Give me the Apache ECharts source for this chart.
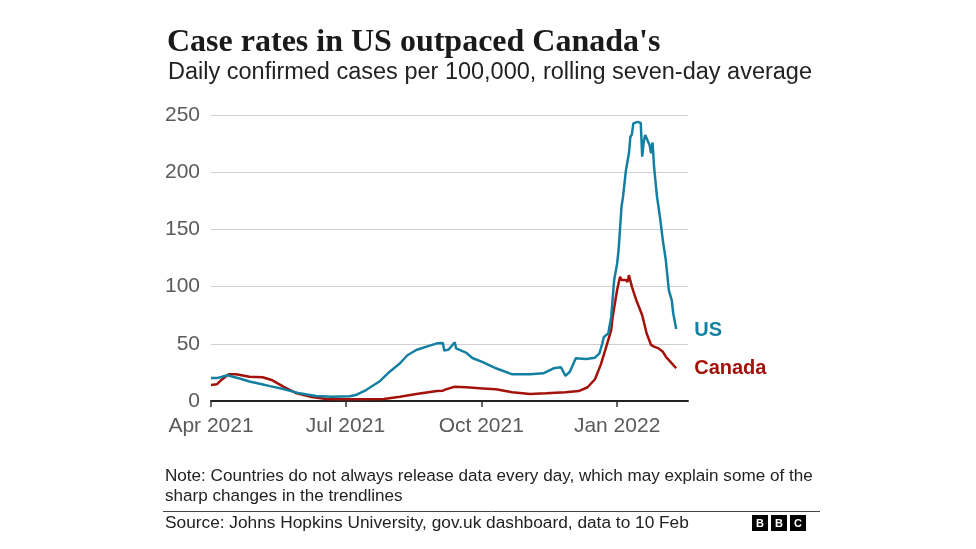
<!DOCTYPE html>
<html>
<head>
<meta charset="utf-8">
<script src="https://cdn.jsdelivr.net/npm/echarts@6/dist/echarts.min.js"></script>
<style>
html,body{margin:0;padding:0;background:#fff;}
#chart{width:976px;height:549px;}
</style>
</head>
<body>
<div id="chart"></div>
<script>
// ---- Data ----
const usDates = ['2021-04-01','2021-04-05','2021-04-08','2021-04-12','2021-04-21','2021-04-27','2021-05-04','2021-05-11','2021-05-20','2021-05-31','2021-06-11','2021-06-22','2021-07-04','2021-07-08','2021-07-15','2021-07-24','2021-07-31','2021-08-07','2021-08-12','2021-08-18','2021-08-25','2021-09-01','2021-09-05','2021-09-06','2021-09-09','2021-09-13','2021-09-14','2021-09-21','2021-09-25','2021-10-02','2021-10-11','2021-10-22','2021-11-03','2021-11-12','2021-11-19','2021-11-24','2021-11-27','2021-11-30','2021-12-04','2021-12-11','2021-12-17','2021-12-20','2021-12-22','2021-12-23','2021-12-26','2021-12-28','2021-12-30','2022-01-01','2022-01-02','2022-01-04','2022-01-05','2022-01-07','2022-01-09','2022-01-10','2022-01-11','2022-01-12','2022-01-15','2022-01-17','2022-01-18','2022-01-19','2022-01-20','2022-01-22','2022-01-23','2022-01-24','2022-01-25','2022-01-26','2022-01-28','2022-01-30','2022-02-01','2022-02-03','2022-02-05','2022-02-07','2022-02-08','2022-02-10'];
const usValues = [20,20,21,22.5,19.5,17,15,13,10.5,6.7,4.4,3.8,4.1,5.2,9.6,17,25.6,33,40,44.6,47.5,50.4,50.7,44,45,51.3,46,42,37.6,34,28.6,23.3,23.3,24.2,28.6,29.5,22,25.6,37.3,36.7,37.9,41.7,50.4,56,59,73.7,105.8,120,132,170,178.6,202,216.5,231,233,242.7,244,243,213.6,226.7,232.5,226.7,223.8,216.5,226,204.8,178.6,161,140,123,97,88,76.7,63];

const caDates = ['2021-04-01','2021-04-05','2021-04-08','2021-04-13','2021-04-18','2021-04-27','2021-05-06','2021-05-12','2021-05-20','2021-05-29','2021-06-07','2021-06-18','2021-07-04','2021-07-27','2021-08-07','2021-08-18','2021-09-01','2021-09-05','2021-09-07','2021-09-13','2021-09-21','2021-10-02','2021-10-11','2021-10-22','2021-11-03','2021-11-14','2021-11-27','2021-12-06','2021-12-12','2021-12-17','2021-12-21','2021-12-24','2021-12-28','2021-12-29','2022-01-01','2022-01-03','2022-01-04','2022-01-07','2022-01-08','2022-01-09','2022-01-11','2022-01-14','2022-01-18','2022-01-21','2022-01-24','2022-01-26','2022-01-29','2022-02-01','2022-02-03','2022-02-06','2022-02-10'];
const caValues = [14,14.6,18.4,23.3,23.3,21.2,20.7,18.4,12.5,6.7,3.8,1.7,1.5,1.7,3.8,6.1,8.7,9,10.2,12.5,12,11,10.2,7.6,6.1,6.7,7.6,8.7,12,19,32,44.6,62,73.7,97,108.6,105.8,105.8,104,110,100,88,75,59,49,47.5,46,43,38.7,34.4,28.6];

const seriesNames = ['US','Canada'];
const tickDates = ['2021-04-01','2021-07-01','2021-10-01','2022-01-01'];
const tickLabels = ['Apr 2021','Jul 2021','Oct 2021','Jan 2022'];
const yTicks = [0,50,100,150,200,250];

const titleText = "Case rates in US outpaced Canada's";
const subtitleText = 'Daily confirmed cases per 100,000, rolling seven-day average';
const noteText = 'Note: Countries do not always release data every day, which may explain some of the\nsharp changes in the trendlines';
const sourceText = 'Source: Johns Hopkins University, gov.uk dashboard, data to 10 Feb';

// ---- Helpers ----
function toTime(s){ const p=s.split('-').map(Number); return Date.UTC(p[0],p[1]-1,p[2]); }
const tickTimes = tickDates.map(toTime);
const usData = usDates.map((d,i)=>[toTime(d),usValues[i]]);
const caData = caDates.map((d,i)=>[toTime(d),caValues[i]]);

const US_COLOR = '#1380a1';
const CA_COLOR = '#a3120a';
const SANS = '"Liberation Sans", Arial, sans-serif';

const chart = echarts.init(document.getElementById('chart'), null, {renderer:'canvas'});
chart.setOption({
  animation:false,
  backgroundColor:'#ffffff',
  title:[
    {text:titleText, left:162, top:22, textStyle:{fontFamily:'"Liberation Serif", serif', fontWeight:'bold', fontSize:32, color:'#1a1a1a'}},
    {text:subtitleText, left:163, top:56, textStyle:{fontFamily:SANS, fontWeight:'normal', fontSize:23.5, color:'#222'}}
  ],
  grid:{left:211, right:288, top:115, bottom:148, containLabel:false},
  xAxis:{
    type:'value',
    min:toTime('2021-04-01'),
    max:toTime('2022-02-18'),
    axisLine:{show:true, lineStyle:{color:'#222', width:2}},
    axisTick:{show:true, customValues:tickTimes, length:6, lineStyle:{color:'#333', width:1.5}},
    axisLabel:{
      customValues:tickTimes,
      margin:15,
      fontFamily:SANS, fontSize:21, color:'#5a5a5a',
      formatter:function(v){ for(let i=0;i<tickTimes.length;i++){ if(Math.abs(tickTimes[i]-v)<43200000) return tickLabels[i]; } return ''; }
    },
    splitLine:{show:false}
  },
  yAxis:{
    type:'value', min:yTicks[0], max:yTicks[yTicks.length-1], interval:50,
    axisLine:{show:false}, axisTick:{show:false},
    axisLabel:{margin:11, fontFamily:SANS, fontSize:21, color:'#5a5a5a'},
    splitLine:{lineStyle:{color:'#d0d0d0', width:1}}
  },
  series:[
    {name:seriesNames[1], type:'line', data:caData, showSymbol:false, lineStyle:{color:CA_COLOR, width:2.5}, itemStyle:{color:CA_COLOR},
     endLabel:{show:true, formatter:'{a}', color:CA_COLOR, fontFamily:SANS, fontWeight:'bold', fontSize:20, distance:18}},
    {name:seriesNames[0], type:'line', data:usData, showSymbol:false, lineStyle:{color:US_COLOR, width:2.5}, itemStyle:{color:US_COLOR},
     endLabel:{show:true, formatter:'{a}', color:US_COLOR, fontFamily:SANS, fontWeight:'bold', fontSize:20, distance:18, offset:[0,2]}}
  ],
  graphic:[
    {type:'text', left:165, top:466, style:{text:noteText, font:'17.1px '+SANS, fill:'#222', lineHeight:20}},
    {type:'line', shape:{x1:163, y1:511.5, x2:820, y2:511.5}, style:{stroke:'#444', lineWidth:1}},
    {type:'text', left:165, top:513, style:{text:sourceText, font:'17.3px '+SANS, fill:'#222', lineHeight:20}},
    {type:'group', left:752, top:515, children:[
      {type:'rect', shape:{x:0,y:0,width:16,height:16}, style:{fill:'#000'}},
      {type:'rect', shape:{x:19,y:0,width:16,height:16}, style:{fill:'#000'}},
      {type:'rect', shape:{x:38,y:0,width:16,height:16}, style:{fill:'#000'}},
      {type:'text', x:8, y:8.5, style:{text:'B', font:'bold 11px '+SANS, fill:'#fff', align:'center', verticalAlign:'middle'}},
      {type:'text', x:27, y:8.5, style:{text:'B', font:'bold 11px '+SANS, fill:'#fff', align:'center', verticalAlign:'middle'}},
      {type:'text', x:46, y:8.5, style:{text:'C', font:'bold 11px '+SANS, fill:'#fff', align:'center', verticalAlign:'middle'}}
    ]}
  ]
});
</script>
</body>
</html>
